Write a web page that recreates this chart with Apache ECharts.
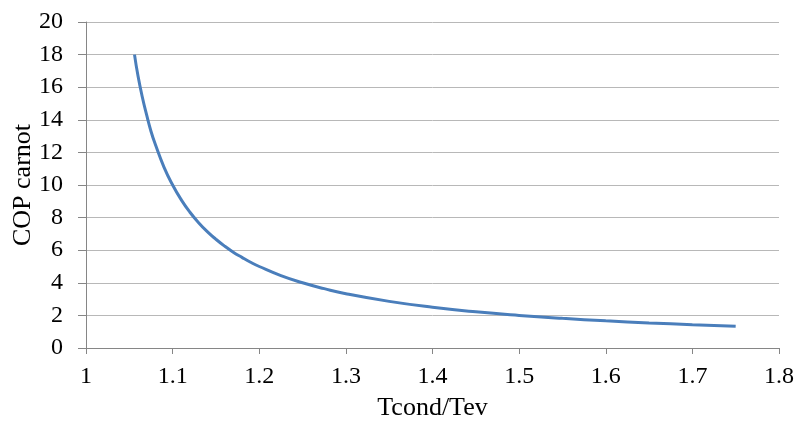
<!DOCTYPE html>
<html><head><meta charset="utf-8">
<script src="https://cdn.jsdelivr.net/npm/echarts@6/dist/echarts.min.js"></script>
<style>html,body{margin:0;padding:0;background:#fff}#c{width:796px;height:422px}</style>
</head><body><div id="c"></div>
<script>
var ratio = [1.056,1.06,1.065,1.07,1.075,1.08,1.09,1.1,1.11,1.12,1.13,1.14,1.15,1.16,1.17,1.18,1.19,1.2,1.225,1.25,1.275,1.3,1.35,1.4,1.45,1.5,1.55,1.6,1.65,1.7,1.75];
var cop   = [18,16.7,15.4,14.3,13.3,12.5,11.1,10,9.09,8.33,7.69,7.14,6.67,6.25,5.88,5.56,5.26,5,4.44,4,3.64,3.33,2.86,2.5,2.22,2,1.82,1.67,1.54,1.43,1.33];
var xName = 'Tcond/Tev';
var yName = 'COP carnot';
var font = 'Liberation Serif';
var chart = echarts.init(document.getElementById('c'));
chart.setOption({
  animation:false,
  grid:{left:86,right:17,top:22,bottom:74,outerBoundsMode:'none',containLabel:false},
  xAxis:{type:'value',min:1,max:1.8,interval:0.1,name:xName,nameLocation:'middle',nameGap:47,nameMoveOverlap:false,
    nameTextStyle:{fontFamily:font,fontSize:26,color:'#000'},
    axisLine:{lineStyle:{color:'#868686'}},axisTick:{show:true,length:6,lineStyle:{color:'#868686'}},
    axisLabel:{fontFamily:font,fontSize:24,color:'#000',margin:17},splitLine:{show:false}},
  yAxis:{type:'value',min:0,max:20,interval:2,name:yName,nameLocation:'middle',nameGap:50,nameMoveOverlap:false,
    nameTextStyle:{fontFamily:font,fontSize:26,color:'#000'},
    axisLine:{show:true,lineStyle:{color:'#868686'}},axisTick:{show:true,length:8,lineStyle:{color:'#868686'}},
    axisLabel:{fontFamily:font,fontSize:24,color:'#000',margin:23},splitLine:{lineStyle:{color:'#b8b8b8'}}},
  series:[{type:'line',data:ratio.map(function(r,i){return [r,cop[i]];}),smooth:true,showSymbol:false,
    lineStyle:{color:'#4a7ebb',width:3}}]
});
</script></body></html>
